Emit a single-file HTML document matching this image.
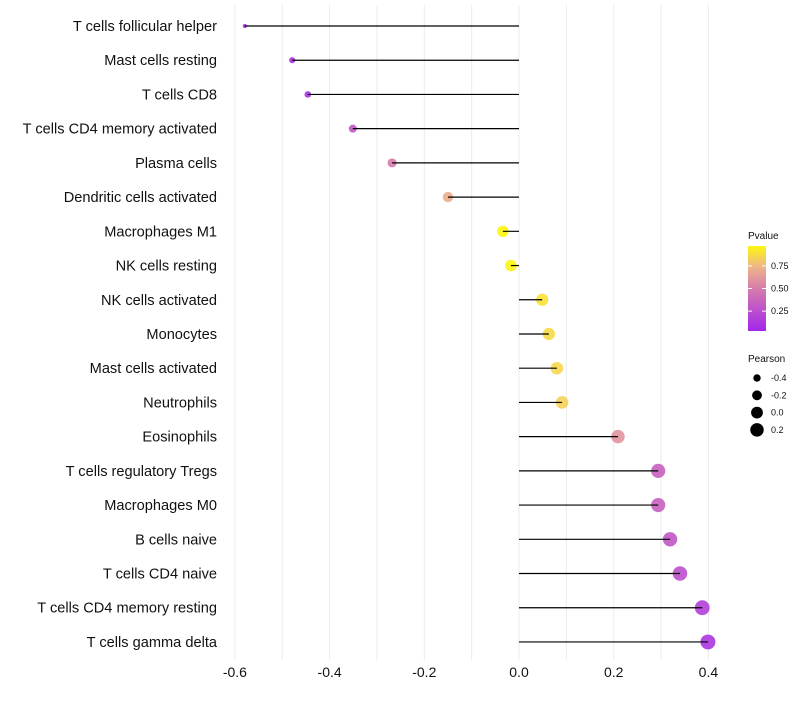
<!DOCTYPE html>
<html><head><meta charset="utf-8"><style>
body{margin:0;background:#fff;font-family:"Liberation Sans",sans-serif}
</style></head><body>
<svg id="c" width="800" height="700" xmlns="http://www.w3.org/2000/svg" font-family="Liberation Sans, sans-serif"></svg>
<script>
const categories=["T cells follicular helper","Mast cells resting","T cells CD8","T cells CD4 memory activated","Plasma cells","Dendritic cells activated","Macrophages M1","NK cells resting","NK cells activated","Monocytes","Mast cells activated","Neutrophils","Eosinophils","T cells regulatory  Tregs ","Macrophages M0","B cells naive","T cells CD4 naive","T cells CD4 memory resting","T cells gamma delta"];
const pearson=[-0.579,-0.479,-0.446,-0.351,-0.268,-0.150,-0.034,-0.017,0.049,0.063,0.080,0.091,0.209,0.294,0.294,0.319,0.340,0.387,0.399];
const pvalue=[0.05,0.08,0.1,0.3,0.5,0.7,0.97,0.97,0.9,0.87,0.86,0.84,0.6,0.35,0.35,0.3,0.26,0.17,0.12];
const xTicks=[-0.6,-0.4,-0.2,0.0,0.2,0.4];
const xTickLabels=["-0.6","-0.4","-0.2","0.0","0.2","0.4"];
const pTicks=[0.25,0.5,0.75];
const sizeTicks=[-0.4,-0.2,0.0,0.2];

const svg=document.getElementById('c');
const NS="http://www.w3.org/2000/svg";
function el(t,a,p){const e=document.createElementNS(NS,t);for(const k in a)e.setAttribute(k,a[k]);(p||svg).appendChild(e);return e;}
const xs=v=>519+v*473.5;
const ys=i=>26+i*34.22;
const rs=v=>Math.sqrt(Math.max(3,34.8+53*v));
function lerp(a,b,t){return a.map((x,i)=>Math.round(x+(b[i]-x)*t));}
function col(p){const stops=[[0,[160,32,240]],[0.5,[214,124,172]],[0.75,[239,184,135]],[1,[255,255,0]]];
 for(let i=1;i<stops.length;i++){if(p<=stops[i][0]){const t=(p-stops[i-1][0])/(stops[i][0]-stops[i-1][0]);const c=lerp(stops[i-1][1],stops[i][1],t);return `rgb(${c})`;}}return 'rgb(255,255,0)';}

for(let v=-0.6;v<=0.41;v+=0.1){const g=el('line',{x1:xs(v),x2:xs(v),y1:5,y2:660,stroke:'#ebebeb','stroke-width':1});
}
xTicks.forEach((v,i)=>{const t=el('text',{x:xs(v),y:677,'text-anchor':'middle','font-size':14,fill:'#111'});t.textContent=xTickLabels[i];
});

categories.forEach((c,i)=>{
 const y=ys(i);
 const t=el('text',{x:217,y:y+5,'text-anchor':'end','font-size':14.6,fill:'#111'});t.textContent=c;
 
 const pt=el('circle',{cx:xs(pearson[i]),cy:y,r:rs(pearson[i]),fill:col(pvalue[i]),'fill-opacity':0.9});
 
 const l=el('line',{x1:xs(0),x2:xs(pearson[i]),y1:y,y2:y,stroke:'#000','stroke-width':1.2});
 
});

const lt=el('text',{x:748,y:239,'font-size':10,fill:'#111'});lt.textContent='Pvalue';

const defs=el('defs',{});const gr=el('linearGradient',{id:'pg',x1:0,y1:1,x2:0,y2:0},defs);
[0,0.5,0.75,1].forEach(o=>el('stop',{offset:o,'stop-color':col(0.03+o*0.94)},gr));
const bar=el('rect',{x:748,y:246,width:18,height:85,fill:'url(#pg)'});

pTicks.forEach(p=>{const y=331-(p-0.03)/0.94*85;
 el('line',{x1:748,x2:752,y1:y,y2:y,stroke:'#fff'});el('line',{x1:762,x2:766,y1:y,y2:y,stroke:'#fff'});
 const t=el('text',{x:771,y:y+3,'font-size':9,fill:'#111'});t.textContent=p.toFixed(2);
 });
const st=el('text',{x:748,y:362,'font-size':10,fill:'#111'});st.textContent='Pearson';

sizeTicks.forEach((v,i)=>{const y=378+i*17.3;
 const c=el('circle',{cx:757,cy:y,r:rs(v),fill:'#000'});
 const t=el('text',{x:771,y:y+3,'font-size':9,fill:'#111'});t.textContent=v.toFixed(1);
 });
</script>
</body></html>
